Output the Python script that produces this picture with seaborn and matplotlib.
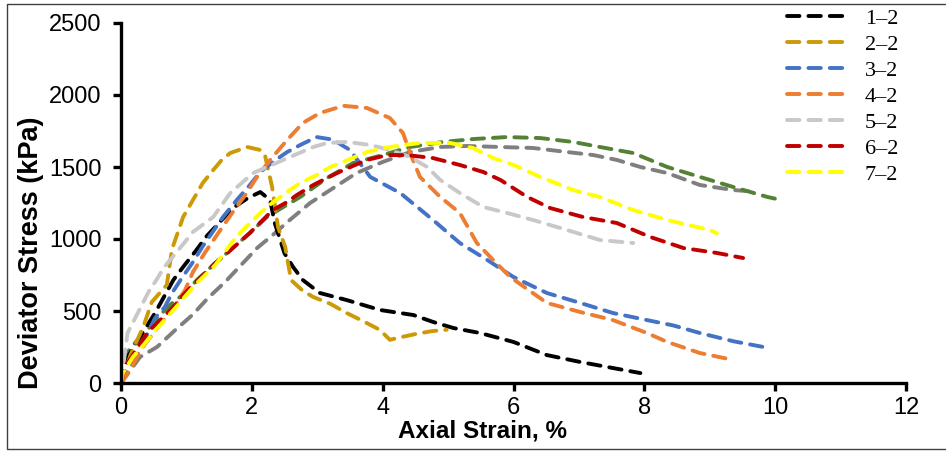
import matplotlib
matplotlib.use("Agg")
import matplotlib.pyplot as plt
import seaborn as sns
import pandas as pd
from matplotlib.lines import Line2D

# Deviator stress (kPa) vs axial strain (%) for each specimen
s12_strain = [0, 0.1, 0.52, 0.8, 0.95, 1.13, 1.31, 1.71, 1.94, 2.13, 2.28, 2.35, 2.5, 2.63, 2.78, 3.04, 3.45,
              3.96, 4.47, 4.77, 5.08, 5.49, 6.0, 6.51, 7.02, 7.52, 7.94]
s12_stress = [0, 180, 486, 715, 806, 910, 1020, 1215, 1285, 1326, 1270, 1111, 900, 806, 715, 625, 576,
              507, 472, 424, 382, 347, 285, 194, 146, 104, 69]

s22_strain = [0, 0.15, 0.34, 0.47, 0.7, 0.78, 0.95, 1.1, 1.25, 1.41, 1.54, 1.67, 1.93, 2.13, 2.2, 2.31, 2.4,
              2.51, 2.6, 2.78, 2.94, 3.2, 3.45, 3.7, 3.96, 4.11, 4.3, 4.5, 4.75, 4.98]
s22_stress = [0, 200, 389, 562, 681, 930, 1153, 1271, 1389, 1479, 1549, 1597, 1639, 1618, 1583, 1361, 1083,
              944, 715, 640, 597, 550, 486, 430, 368, 300, 320, 340, 360, 370]

s32_strain = [0, 0.21, 0.52, 0.67, 0.78, 0.93, 1.1, 1.25, 1.56, 1.77, 1.97, 2.13, 2.32, 2.54, 2.74, 2.99, 3.24,
              3.5, 3.81, 4.27, 4.77, 5.18, 5.6, 6.0, 6.51, 7.02, 7.52, 8.04, 8.44, 8.85, 9.36, 9.82]
s32_stress = [0, 160, 451, 528, 625, 729, 840, 950, 1153, 1271, 1375, 1465, 1535, 1604, 1653, 1708, 1690,
              1618, 1431, 1319, 1132, 972, 854, 736, 625, 556, 486, 437, 400, 347, 290, 250]

s42_strain = [0, 0.14, 0.32, 0.57, 0.83, 0.98, 1.1, 1.28, 1.5, 1.7, 1.9, 2.08, 2.28, 2.54, 2.78, 3.04, 3.4,
              3.76, 4.11, 4.31, 4.42, 4.57, 4.88, 5.18, 5.44, 5.69, 5.95, 6.51, 7.02, 7.52, 8.04, 8.35, 8.85,
              9.36]
s42_stress = [0, 90, 243, 389, 542, 646, 771, 903, 1050, 1181, 1306, 1431, 1549, 1688, 1806, 1875, 1925,
              1910, 1840, 1736, 1597, 1431, 1292, 1181, 972, 854, 736, 556, 493, 437, 347, 285, 208, 160]

s52_strain = [0, 0.1, 0.42, 0.57, 0.65, 0.94, 1.1, 1.41, 1.67, 2.02, 2.48, 2.94, 3.15, 3.46, 3.81, 4.11,
              4.42, 4.68, 4.88, 5.18, 5.54, 5.9, 6.3, 6.82, 7.32, 7.83]
s52_stress = [0, 347, 632, 736, 799, 958, 1049, 1153, 1319, 1458, 1549, 1639, 1667, 1674, 1653, 1618,
              1569, 1500, 1410, 1319, 1222, 1181, 1132, 1062, 993, 972]

s62_strain = [0, 0.06, 0.26, 0.41, 0.63, 0.83, 0.95, 1.13, 1.44, 1.59, 1.97, 2.32, 2.54, 2.69, 2.94, 3.15,
              3.4, 3.76, 4.07, 4.37, 4.77, 5.18, 5.54, 5.8, 6.21, 6.56, 7.06, 7.58, 8.09, 8.6, 9.11, 9.51]
s62_stress = [0, 111, 250, 354, 451, 542, 611, 694, 833, 889, 1042, 1201, 1257, 1306, 1375, 1424,
              1479, 1549, 1583, 1583, 1562, 1514, 1465, 1410, 1292, 1215, 1153, 1111, 1014, 937, 903, 868]

s72_strain = [0, 0.03, 0.18, 0.37, 0.57, 0.83, 1.13, 1.44, 1.7, 1.82, 2.13, 2.31, 2.58, 2.74, 2.99, 3.2,
              3.76, 4.11, 4.57, 5.03, 5.38, 5.69, 6.0, 6.41, 6.91, 7.32, 7.83, 8.35, 9.0, 9.11]
s72_stress = [0, 69, 180, 278, 389, 521, 681, 819, 979, 1042, 1181, 1250, 1340, 1389, 1444, 1500,
              1604, 1639, 1667, 1667, 1632, 1562, 1514, 1431, 1340, 1292, 1201, 1132, 1062, 1040]

s82_strain = [0, 0.1, 0.29, 0.47, 0.67, 0.8, 0.98, 1.16, 1.28, 1.44, 1.62, 1.97, 2.23, 2.48, 2.74, 3.15,
              3.55, 4.0, 4.42, 4.92, 5.38, 5.9, 6.41, 6.91, 7.32, 7.83, 8.35, 8.85, 9.36, 9.88, 10.0]
s82_stress = [0, 215, 319, 403, 507, 562, 625, 715, 764, 833, 903, 1042, 1153, 1222, 1292, 1424,
              1528, 1583, 1639, 1674, 1694, 1708, 1701, 1674, 1639, 1597, 1500, 1431, 1361, 1292, 1280]

s92_strain = [0, 0.29, 0.55, 0.83, 1.09, 1.33, 1.59, 2.08, 2.32, 2.58, 2.89, 3.15, 3.6, 4.0, 4.42, 4.88,
              5.29, 5.8, 6.3, 6.82, 7.22, 7.58, 7.94, 8.35, 8.85, 9.36, 9.66]
s92_stress = [0, 180, 250, 368, 472, 590, 701, 937, 1028, 1132, 1250, 1326, 1458, 1535, 1604, 1639,
              1646, 1639, 1632, 1604, 1583, 1549, 1500, 1458, 1375, 1340, 1330]

series_names = ["1–2", "2–2", "3–2", "4–2", "5–2", "6–2", "7–2", "8–2", "9–2"]
series_strain = [s12_strain, s22_strain, s32_strain, s42_strain, s52_strain, s62_strain, s72_strain,
                 s82_strain, s92_strain]
series_stress = [s12_stress, s22_stress, s32_stress, s42_stress, s52_stress, s62_stress, s72_stress,
                 s82_stress, s92_stress]
series_colors = ["#000000", "#CC9A06", "#4472C4", "#ED7D31", "#C8C8C8", "#C00000", "#FFFF00",
                 "#548235", "#7F7F7F"]
in_legend = [True, True, True, True, True, True, True, False, False]

sns.set_theme(style="white")
plt.rcParams["font.family"] = ["Liberation Sans", "DejaVu Sans"]

fig = plt.figure(figsize=(9.49, 4.55), dpi=100)
ax = fig.add_axes([121 / 949, 1 - 383 / 455, 785 / 949, 360 / 455])

# draw the unlabelled series first so the legend entries sit on top
order = [8, 7, 0, 1, 2, 3, 4, 5, 6]
handles = {}
for i in order:
    df = pd.DataFrame({"strain": series_strain[i], "stress": series_stress[i]})
    sns.lineplot(data=df, x="strain", y="stress", ax=ax, sort=False, estimator=None,
                 color=series_colors[i], lw=2.8, legend=False)
    line = ax.lines[-1]
    line.set_dashes((3.2, 2.3))
    line.set_dash_capstyle("round")
    handles[i] = line

ax.set_xlim(0, 12)
ax.set_ylim(0, 2500)
ax.set_xticks([0, 2, 4, 6, 8, 10, 12])
ax.set_yticks([0, 500, 1000, 1500, 2000, 2500])

for side in ("top", "right"):
    ax.spines[side].set_visible(False)
for side in ("left", "bottom"):
    ax.spines[side].set_color("black")
    ax.spines[side].set_linewidth(2.4)
ax.tick_params(axis="both", which="major", direction="out", length=6, width=2.4, color="black",
               labelsize=17, labelcolor="black", left=True, bottom=True)
ax.tick_params(axis="y", pad=8)
ax.tick_params(axis="x", pad=4)

ax.set_xlabel("Axial Strain, %", fontsize=17.5, fontweight="bold", color="black")
ax.xaxis.set_label_coords((483 - 121) / 785, (383 - 431) / 360)
ax.xaxis.label.set_va("center")
ax.set_ylabel("Deviator Stress (kPa)", fontsize=19.5, fontweight="bold", color="black")
ax.yaxis.set_label_coords((31 - 121) / 785, (383 - 253) / 360)
ax.yaxis.label.set_va("center")

leg_handles = [handles[i] for i in range(9) if in_legend[i]]
leg_labels = [series_names[i] for i in range(9) if in_legend[i]]
leg = fig.legend(leg_handles, leg_labels, loc="upper left", bbox_to_anchor=(787 / 949, 1 - 8 / 455),
                 frameon=False, handlelength=2.75, handletextpad=0.75, labelspacing=0.25,
                 borderaxespad=0, borderpad=0, prop={"family": "Liberation Serif", "size": 16})
for t in leg.get_texts():
    t.set_color("black")

# thin frame on the top, left and bottom of the figure
W, H = 949, 455
frame_x = [945 / W, 7 / W, 7 / W, 945 / W]
frame_y = [1 - 4 / H, 1 - 4 / H, 1 - 449 / H, 1 - 449 / H]
fig.lines.append(Line2D(frame_x, frame_y, transform=fig.transFigure, color="#404040", linewidth=1.0))

fig.savefig("out.png", dpi=100)
